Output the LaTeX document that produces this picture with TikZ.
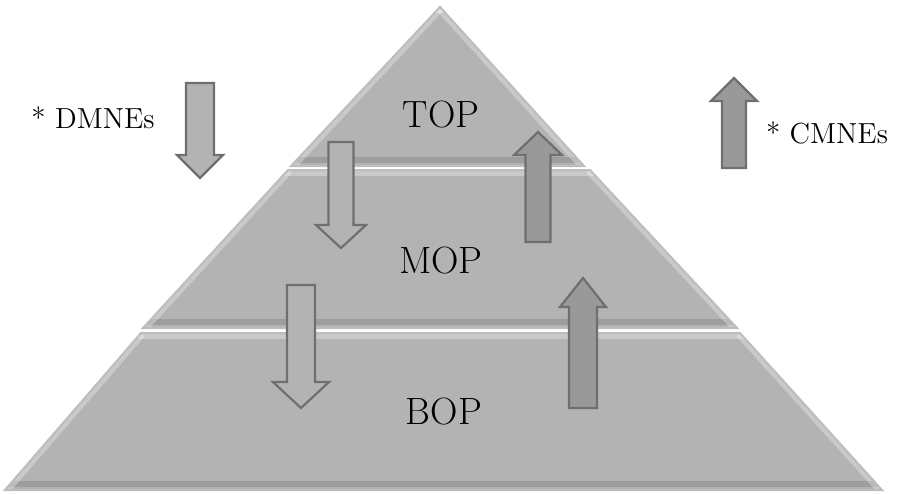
\documentclass[tikz,border=0pt]{standalone}
\usepackage{xcolor}
\usepackage{tikz}
\definecolor{tierGray}{HTML}{B3B3B3}
\definecolor{tierLight}{HTML}{C9C9C9}
\definecolor{tierShade}{HTML}{9D9D9D}
\definecolor{tierEdge}{HTML}{BDBDBD}
\definecolor{arrowLine}{HTML}{6F6F6F}
\definecolor{arrowLight}{HTML}{B3B3B3}
\definecolor{arrowDark}{HTML}{999999}

\begin{document}
\begin{tikzpicture}[x=0.5pt, y=-0.5pt,
  tierLabel/.style={anchor=base, font=\fontsize{19}{22}\selectfont},
  sideLabel/.style={anchor=base, font=\fontsize{14.5}{17}\selectfont}]
  \useasboundingbox (0,0) rectangle (900,493);
  % three tiers, top to bottom
  \foreach \ya/\yb/\la/\ra/\lb/\rb in {
    7/166/440/440/291/584,
    170/328/288/590/143/737,
    333/490/141/740/5/882}{
    \begin{scope}
      \clip (\la,\ya) -- (\ra,\ya) -- (\rb,\yb) -- (\lb,\yb) -- cycle;
      \fill[tierGray] (0,\ya) rectangle (900,\yb);
      \fill[tierLight] (0,\ya) rectangle (900,\ya+6);
      \fill[tierShade] (0,\yb-9) rectangle (900,\yb-3);
      \draw[white, opacity=.3, line width=5pt] (\la,\ya) -- (\lb,\yb);
      \draw[white, opacity=.3, line width=5pt] (\ra,\ya) -- (\rb,\yb);
    \end{scope}
    \draw[tierEdge, line width=1pt] (\la,\ya) -- (\ra,\ya) -- (\rb,\yb) -- (\lb,\yb) -- cycle;
  }
  % block arrows: light ones go down, dark ones go up
  \foreach \cx/\w/\h/\ya/\yb/\yc/\col in {
    200/14/23/83/155/178/arrowLight,
    341/12.5/25/142/225/248/arrowLight,
    301/14/28/285/382/408/arrowLight,
    538/12.5/24/242/155/132/arrowDark,
    583/14/23/408/307/278/arrowDark,
    734/12/23/168/101/78/arrowDark}{
    \filldraw[fill=\col, draw=arrowLine, line width=1.1pt]
      (\cx-\w,\ya) -- (\cx+\w,\ya) -- (\cx+\w,\yb) -- (\cx+\h,\yb)
      -- (\cx,\yc) -- (\cx-\h,\yb) -- (\cx-\w,\yb) -- cycle;
  }
  \node[tierLabel] (top) at (441,127) {TOP};
  \node[tierLabel] (mop) at (441,273) {MOP};
  \node[tierLabel] (bop) at (444,424) {BOP};
  \node[sideLabel] (dmne) at (93,128) {* DMNEs};
  \node[sideLabel] (cmne) at (827,143) {* CMNEs};
\end{tikzpicture}
\end{document}
